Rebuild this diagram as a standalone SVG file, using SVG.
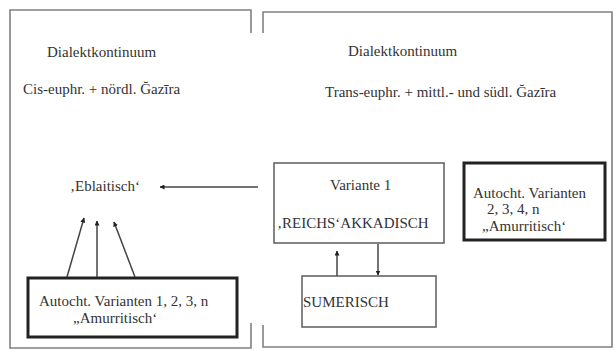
<svg xmlns="http://www.w3.org/2000/svg" width="616" height="351" viewBox="0 0 616 351" font-family="Liberation Serif, Times New Roman, serif">
<style>
.t{font-size:15px;fill:#333}
.frame{fill:none;stroke:#808080;stroke-width:1.6}
.box{fill:#fff;stroke:#666;stroke-width:1.6}
.tbox{fill:#fff;stroke:#222;stroke-width:3}
.con{fill:none;stroke:#444;stroke-width:1.5}
</style>
<defs>
<marker id="ah" viewBox="0 0 10 10" refX="9" refY="5" markerWidth="5" markerHeight="5" orient="auto" markerUnits="userSpaceOnUse">
<path d="M0,0 L10,5 L0,10 z" fill="#222"/>
</marker>
</defs>
<rect width="616" height="351" fill="#fff"/>
<g id="region-left">
<path class="frame" d="M251,33 V10 H10 V348 H251 V323"/>
<text class="t" font-family="Liberation Serif" x="47" y="57">Dialektkontinuum</text>
<text class="t" font-family="Liberation Serif" x="23" y="94">Cis-euphr. + nördl. Ğazīra</text>
</g>
<g id="region-right">
<path class="frame" d="M263,33 V12 H612 V347 H263 V325"/>
<text class="t" font-family="Liberation Serif" x="348" y="56">Dialektkontinuum</text>
<text class="t" font-family="Liberation Serif" x="325" y="97">Trans-euphr. + mittl.- und südl. Ğazīra</text>
</g>
<g id="eblaitisch">
<text class="t" font-family="Liberation Serif" x="70" y="191">‚Eblaitisch‘</text>
</g>
<g id="autocht-left">
<rect class="tbox" x="28" y="278" width="209" height="59"/>
<text class="t" font-family="Liberation Serif" x="39" y="306">Autocht. Varianten 1, 2, 3, n</text>
<text class="t" font-family="Liberation Serif" x="73" y="323">„Amurritisch‘</text>
</g>
<g id="reichsakkadisch">
<rect class="box" x="274" y="163" width="170" height="80"/>
<text class="t" font-family="Liberation Serif" x="330" y="190">Variante 1</text>
<text class="t" font-family="Liberation Serif" x="277" y="228">‚REICHS‘AKKADISCH</text>
</g>
<g id="autocht-right">
<rect class="tbox" x="464" y="163" width="141" height="77"/>
<text class="t" font-family="Liberation Serif" x="473" y="198">Autocht. Varianten</text>
<text class="t" font-family="Liberation Serif" x="487" y="214">2, 3, 4, n</text>
<text class="t" font-family="Liberation Serif" x="482" y="231">„Amurritisch‘</text>
</g>
<g id="sumerisch">
<rect class="box" x="302" y="276" width="134" height="51"/>
<text class="t" font-family="Liberation Serif" x="303" y="307">SUMERISCH</text>
</g>
<g id="connectors">
<line class="con" x1="258" y1="187" x2="160" y2="187" marker-end="url(#ah)"/>
<line class="con" x1="67" y1="277" x2="84" y2="218" marker-end="url(#ah)"/>
<line class="con" x1="97" y1="277" x2="97" y2="221" marker-end="url(#ah)"/>
<line class="con" x1="135" y1="277" x2="114" y2="222" marker-end="url(#ah)"/>
<line class="con" x1="337" y1="276" x2="337" y2="251" marker-end="url(#ah)"/>
<line class="con" x1="378" y1="244" x2="378" y2="275" marker-end="url(#ah)"/>
</g>
</svg>
